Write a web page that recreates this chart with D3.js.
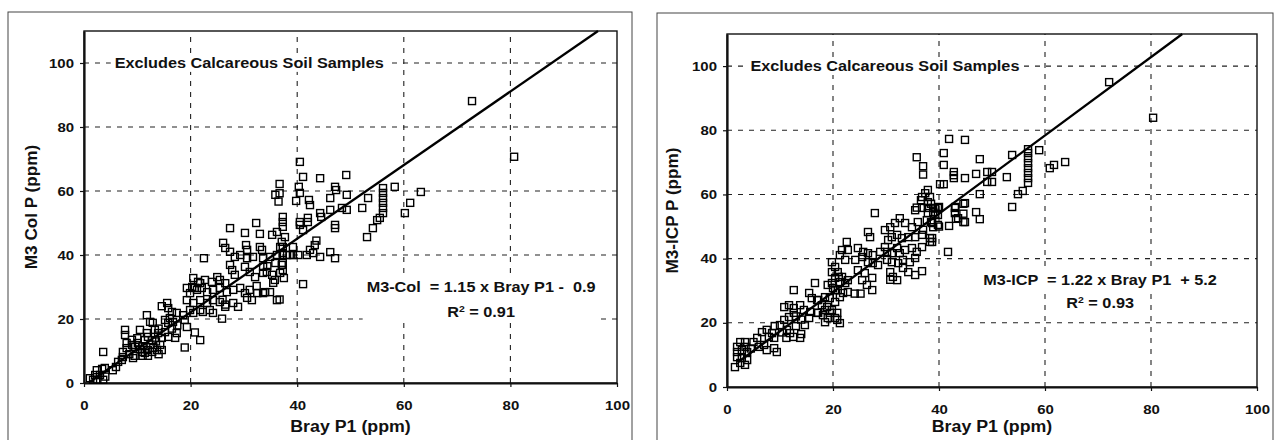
<!DOCTYPE html>
<html>
<head>
<meta charset="utf-8">
<script src="https://cdn.jsdelivr.net/npm/d3@7"></script>
<style>
  body { margin: 0; background: #fff; }
  svg { font-family: "Liberation Sans", Arial, sans-serif; }
  text { white-space: pre; }
  .tick text { font-size: 13px; font-weight: bold; fill: #111; }
  .grid line { stroke: #222; stroke-width: 1.1; stroke-dasharray: 5,6; }
</style>
</head>
<body>
<svg id="chart" width="1274" height="440"></svg>
<script>
// axis ticks (both panels)
var xTicks = [0, 20, 40, 60, 80, 100];
var yTicks = [0, 20, 40, 60, 80, 100];
var gridX = [20, 40, 60, 80];
var gridY = [20, 40, 60, 80, 100];

// Bray P1 vs M3-Col P
var colPoints = [
  [1.1,1.5],[1.7,1],[2.1,2.5],[3,2.5],[3.6,1],[2.4,4],[3.4,4.4],[3.9,4.7],[3.6,9.7],[5.4,4],
  [6.4,6.6],[7.1,7.2],[7.3,9.7],[7.3,8.1],[7.7,16.6],[7.7,15],[8,12.5],[8,10.9],[9.2,7.8],[9,11.9],
  [9.6,11.3],[10.1,12.5],[10.5,16.6],[10.9,9.7],[11.4,9.4],[12,10.3],[12.8,9.7],[11.4,13.4],[12,14.4],[12.8,13.4],
  [11.8,15.6],[11.8,21.2],[12.4,19.1],[12.9,18.8],[13.3,16.6],[13.9,15.6],[14.6,14.1],[14.3,11.9],[13.7,10.3],[14.6,10.3],
  [14.6,24],[15.6,25],[15.8,23.4],[16.5,22.2],[17.4,21.9],[15.2,19.7],[15.8,18.8],[16.7,19.1],[16.1,20.3],[15.2,15.9],
  [15.8,14.4],[17.1,14.1],[17.4,15.6],[18.6,21.2],[18.9,19.7],[19.3,17.5],[18.9,11.1],[20.8,15.8],[21.8,13.4],[19.9,28.1],
  [20.8,29.7],[21.8,31.2],[8.5,9],[9.5,8.5],[10.5,10.5],[11,11.5],[12.5,12],[13,11],[10,14],[9,13.5],
  [6,5],[2.5,1],[4,2],[13.5,13],[14,17],[16.5,17],[17.5,18],[12,8.5],[14,9],[11,8.5],
  [22.5,39],[27.4,48.4],[30.2,46.9],[33,46.6],[35.3,46.3],[36.2,47.2],[26.1,43.8],[26.5,42.2],[27.4,41],[30.4,43.1],
  [30.6,41.6],[33,42.5],[33.4,41.6],[36.8,42.5],[37.1,44.1],[37.7,45.6],[28.3,39.4],[29.3,40],[30.6,39],[31.7,39.4],
  [33.6,39],[34.9,39.4],[36.2,40],[37.3,40.6],[38.6,40],[40.2,40],[41.8,40],[27.4,36.9],[27.8,35.3],[28.3,33.8],
  [30.2,36.3],[31.1,34.7],[32.1,33.1],[33.6,36.3],[34.3,34.7],[35.3,33.8],[35.8,32.2],[37.1,36.9],[37.3,35.3],[36.8,34.4],
  [20.5,32.8],[21.4,31.6],[22.7,32.2],[24,31.6],[25,33.1],[25.5,32.2],[26.5,31.2],[19.3,29.7],[20.3,30],[21.2,29.1],
  [22.1,29.7],[23.1,28.4],[24.2,29.1],[25.5,29.7],[26.8,28.4],[28,29.1],[29.3,29.7],[30.2,28.1],[31.1,29.1],[32.5,28.1],
  [33.6,28.1],[34.9,28.4],[30.6,26.6],[31.5,25.9],[34,28.4],[36.2,25.9],[19.3,25.9],[20.5,25],[21.8,25.9],[23.1,25],
  [24.2,25.9],[25.5,25.3],[26.5,23.8],[28,25],[28.9,23.8],[19.9,22.8],[21.8,22.8],[23.6,22.8],[20.5,21.9],[22.3,22.2],
  [24.2,21.9],[25.9,20.1],[26,26],[26.5,24.5],[33.6,34.4],[34.4,36.5],[35.9,37.5],[37.5,32.8],[35.5,31.3],[32.4,30.3],
  [40.5,69.1],[41.1,64.4],[44.3,64],[49.2,65],[36.7,62.2],[36.7,59.3],[35.9,58.8],[36.5,56.7],[39.8,56.9],[40.3,61.3],
  [40.5,59.4],[42.2,57.2],[42.4,55.6],[47.1,61.3],[47.3,60.3],[46.2,57.8],[49.3,58.8],[46.2,54.1],[48.4,54.7],[49.3,54.1],
  [44.3,53.1],[44.5,51.9],[42,51.6],[42,50.3],[40.5,50.3],[40.5,49.4],[37.3,51.9],[37.3,50.3],[37.3,48.8],[41.1,47.8],
  [47.1,49.4],[47.1,48.4],[52.2,54.7],[53.3,57.8],[56.1,60.9],[56.1,59.4],[56.1,57.8],[56.1,56.3],[56.1,54.7],[56.1,53.1],
  [58.3,61.3],[63.2,59.7],[61.2,56.3],[60.2,53.1],[55.5,51.6],[55,50.9],[54.2,48.4],[53.1,45.6],[32.3,50],[37.3,42.5],
  [39.2,42.5],[37.3,40],[38.1,40],[39.2,40],[42.4,41.6],[43.3,43.1],[43,40.6],[44.3,39.4],[46.2,40.9],[47.1,39],
  [37.3,37.5],[41.1,30.9],[36.7,26.1],[43.6,44.5],[72.8,88.1],[80.7,70.7]
];

// Bray P1 vs M3-ICP P
var icpPoints = [
  [1.5,6.2],[1.9,12.5],[1.9,10.9],[1.9,9.3],[2.5,14],[3.4,14],[2.8,11.5],[3.8,10.9],[2.8,9],[3.8,8.4],
  [3.4,6.9],[2.5,7.5],[5.7,15.3],[6.6,17.1],[7.5,17.8],[8.5,16.8],[7,13.1],[7.5,11.5],[8.9,12.1],[9.4,10.9],
  [7.9,15.6],[8.9,15.3],[10,19.3],[10.8,20.9],[11.7,21.8],[12.6,23.1],[10.8,24.9],[11.7,25.5],[12.6,24.6],[13.8,25.5],
  [10.4,17],[11.3,17.8],[11.9,16.8],[12.5,15.6],[11.2,15.3],[13.8,15.3],[14,16.5],[12.6,30.2],[15.5,29.3],[16,27.7],
  [17,27.1],[16.6,32.4],[14.5,24],[15.7,23.4],[17,23.1],[15.5,21.5],[14.7,19.3],[17.9,25.5],[18.5,24],[19.4,23.1],
  [18.5,20.2],[20.8,20.9],[19.8,32.4],[20.4,30.2],[21.1,34.3],[4.5,12],[6,12.5],[9,19],[13,19],[5,14],
  [14,21],[13,22],[3.5,12.5],
  [27.9,54.2],[36.8,59.2],[37.4,60.4],[35.5,55.1],[36.8,55.8],[37.9,54.2],[38.9,54.5],[39.8,53.6],[32.6,52.6],[33.6,51.1],
  [34.9,49.8],[36,51.4],[37.7,52],[38.7,51.1],[26.6,48.3],[27,46.7],[29.8,48.9],[30.8,49.8],[31.7,51.1],[30.4,45.8],
  [31.1,46.7],[32.1,47.4],[33,46.4],[34.2,46.7],[35.5,46.7],[36.8,47.4],[38.3,45.2],[38.7,46.4],[22.6,45.2],[24.7,43.3],
  [25.7,42.1],[26.6,41.7],[27.5,41.1],[28.9,42.1],[29.8,43.6],[30.2,42.1],[31.1,41.7],[32.1,43.3],[32.6,41.7],[33.6,42.7],
  [34.9,43.3],[35.8,42.1],[36.8,43.6],[30.2,39.6],[31.1,38.9],[32.3,38.6],[33.2,39.6],[34.5,38.9],[35.5,40.2],[33.2,37.1],
  [34.2,35.8],[35.5,34.9],[30.8,35.8],[31.3,34.3],[32.1,33.3],[30.8,33.4],[36.8,36.1],[24.2,39.6],[25.5,40.5],[26.6,38.9],
  [27.5,38.6],[28.5,38],[21.3,41.1],[22.3,39.6],[21.7,42.7],[22.8,42.7],[24.7,36.4],[26,35.5],[27.4,34],[25.5,33.3],
  [26.4,31.8],[27.4,30.2],[24.1,29.1],[25.2,29.1],[19.8,38.9],[20.4,37.4],[19.8,35.8],[20.9,35.8],[21.7,34.3],[20.4,34],
  [21.3,32.7],[22.3,32.4],[22.8,33.3],[19,31.8],[20,30.8],[20.9,30.2],[21.9,29.3],[22.8,29.6],[18.5,28],[19.4,27.7],
  [20.4,26.5],[21.3,28],[17.2,27.1],[18.9,24.9],[19.8,24],[20.8,23.1],[17.2,23.1],[18.1,22.4],[19,21.5],[20.4,21.5],
  [21.3,19.9],
  [41.9,77.3],[44.9,77],[35.8,71.6],[37,68.8],[37,66.2],[40.9,72.9],[40.9,69.2],[47.7,71],[42.8,67],[42.8,66],
  [42.8,65.1],[44.9,65.1],[47,66.4],[49.1,67],[50,67],[49.1,63.9],[50,63.9],[52.8,65.4],[53.8,72.3],[56.8,74.1],
  [58.9,73.8],[56.8,72.9],[56.8,71.3],[56.8,69.8],[56.8,68.2],[56.8,66.7],[56.8,65.1],[56.8,63.6],[55.8,61.1],[54.9,60.1],
  [53.8,56.1],[60.9,68.2],[61.7,69.2],[63.8,70.1],[40.2,63.2],[40.9,63.2],[47.7,60.1],[44.9,57.3],[43,55.8],[43,54.2],
  [43.6,52.6],[44.9,51.4],[47,54.5],[47.7,52.3],[41.9,50.2],[39.8,50.5],[38.9,49.8],[37.9,55.8],[38.9,55.8],[39.8,55.8],
  [37.9,61.4],[38.3,59.2],[37.9,57.6],[38.3,46.4],[38.7,45.2],[41.7,42.1],[36.6,58.2],[35.8,55.9],[38.5,57.1],[39.3,55.6],
  [40,56.1],[39.3,54],[43.1,56.1],[44.6,54],[44.6,57.1],[43.2,52.4],[44.6,51.4],[40,50],[38.5,51.4],[37,49],
  [72.1,95],[80.4,83.9]
];

// regression fits: [slope, intercept, r2]
var colFit = [1.15, -0.9, 0.91];
var icpFit = [1.22, 5.2, 0.93];

var svg = d3.select("#chart");

// the scan is stretched sideways, so widen the text a bit
function widen(sel, f) {
  sel.each(function() {
    var len = this.getComputedTextLength();
    d3.select(this).attr("textLength", len * f).attr("lengthAdjust", "spacingAndGlyphs");
  });
}

// outer page frames of the two figures
svg.append("rect").attr("x", 8).attr("y", 12).attr("width", 624).attr("height", 440)
  .attr("fill", "none").attr("stroke", "#444").attr("stroke-width", 1);
svg.append("rect").attr("x", 657).attr("y", 13).attr("width", 616).attr("height", 440)
  .attr("fill", "none").attr("stroke", "#444").attr("stroke-width", 1);

function drawPanel(opt) {
  var x = d3.scaleLinear().domain([0, 100]).range(opt.xr);
  var y = d3.scaleLinear().domain([0, 110]).range(opt.yr);
  var g = svg.append("g");

  // grid
  var grid = g.append("g").attr("class", "grid");
  grid.selectAll(".gx").data(gridX).enter().append("line")
    .attr("x1", d => x(d)).attr("x2", d => x(d))
    .attr("y1", y(0)).attr("y2", y(110));
  grid.selectAll(".gy").data(gridY).enter().append("line")
    .attr("x1", x(0)).attr("x2", x(100))
    .attr("y1", d => y(d)).attr("y2", d => y(d));

  var boxes = g.append("g");
  function label(cx, cy) {
    return g.append("text").attr("x", x(cx)).attr("y", y(cy))
      .attr("text-anchor", "middle").attr("dy", "0.35em")
      .style("font-size", "14px").style("font-weight", "bold").attr("fill", "#111");
  }

  var title = label(opt.titleAt[0], opt.titleAt[1]).text("Excludes Calcareous Soil Samples");
  var eq = label(opt.eqAt[0], opt.eqAt[1]).text(opt.eq);
  var r2 = label(opt.eqAt[0], opt.eqAt[1] - opt.r2dy);
  r2.append("tspan").text("R");
  r2.append("tspan").attr("baseline-shift", "super").style("font-size", "9px").text("2");
  r2.append("tspan").text(" = " + opt.fit[2].toFixed(2));
  widen(title, 1.16);
  widen(eq, 1.16);
  widen(r2, 1.16);

  // white boxes behind the texts, the grid stops there in the original
  [title, eq, r2].forEach(function(t) {
    var b = t.node().getBBox();
    boxes.append("rect").attr("x", b.x - 4).attr("y", b.y - 1)
      .attr("width", b.width + 8).attr("height", b.height + 2).attr("fill", "#fff");
  });
  if (opt.eqBox) {
    var b1 = eq.node().getBBox(), b2 = r2.node().getBBox();
    boxes.append("rect").attr("x", b1.x - 4).attr("y", b1.y - 2)
      .attr("width", b1.width + 8).attr("height", b2.y + b2.height - b1.y + 4).attr("fill", "#fff");
  }

  // frame
  g.append("rect").attr("x", x(0)).attr("y", y(110))
    .attr("width", x(100) - x(0)).attr("height", y(0) - y(110))
    .attr("fill", "none").attr("stroke", "#111").attr("stroke-width", 1.4);

  // axes
  var xa = g.append("g").attr("transform", "translate(0," + y(0) + ")")
    .call(d3.axisBottom(x).tickValues(xTicks).tickSize(4).tickPadding(14).tickSizeOuter(0));
  var ya = g.append("g").attr("transform", "translate(" + x(0) + ",0)")
    .call(d3.axisLeft(y).tickValues(yTicks).tickSize(4).tickPadding(6).tickSizeOuter(0));
  [xa, ya].forEach(function(a) {
    a.select(".domain").attr("stroke", "#111").attr("stroke-width", 2.2);
    a.selectAll(".tick line").attr("stroke", "#111").attr("stroke-width", 1.2);
    widen(a.selectAll(".tick text"), 1.15);
  });

  // axis titles
  var xt = g.append("text").attr("x", (x(0) + x(100)) / 2).attr("y", opt.xTitleY)
    .attr("text-anchor", "middle").style("font-size", "16px").style("font-weight", "bold")
    .attr("fill", "#111").text("Bray P1 (ppm)");
  var yt = g.append("text")
    .attr("transform", "translate(" + (x(0) - opt.yTitleDx) + "," + (y(0) + y(110)) / 2 + ") rotate(-90)")
    .attr("text-anchor", "middle").attr("dy", "0.35em")
    .style("font-size", "16px").style("font-weight", "bold")
    .attr("fill", "#111").text(opt.yTitle);
  widen(xt, 1.11);
  widen(yt, 1.07);

  // fitted line
  var slope = opt.fit[0], icpt = opt.fit[1];
  var x1 = opt.lineStart, x2 = (110 - icpt) / slope;
  g.append("line")
    .attr("x1", x(x1)).attr("y1", y(slope * x1 + icpt))
    .attr("x2", x(x2)).attr("y2", y(slope * x2 + icpt))
    .attr("stroke", "#000").attr("stroke-width", 2.3);

  // points
  g.append("g").selectAll("rect").data(opt.points).enter().append("rect")
    .attr("x", d => x(d[0]) - 3.5).attr("y", d => y(d[1]) - 3.5)
    .attr("width", 7).attr("height", 7)
    .attr("fill", "none").attr("stroke", "#000").attr("stroke-width", 1.4);
}

drawPanel({
  xr: [84, 617], yr: [383, 31], points: colPoints, fit: colFit,
  yTitle: "M3 Col P (ppm)", yTitleDx: 53, xTitleY: 432,
  titleAt: [31, 100], eqAt: [74.5, 30], r2dy: 7.8, eqBox: true,
  eq: "M3-Col  = 1.15 x Bray P1 -  0.9", lineStart: 1.2
});
drawPanel({
  xr: [727, 1257], yr: [387, 34], points: icpPoints, fit: icpFit,
  yTitle: "M3-ICP P (ppm)", yTitleDx: 55, xTitleY: 432,
  titleAt: [29.8, 100], eqAt: [70.4, 33.3], r2dy: 7.2, eqBox: false,
  eq: "M3-ICP  = 1.22 x Bray P1  + 5.2", lineStart: 2
});
</script>
</body>
</html>
